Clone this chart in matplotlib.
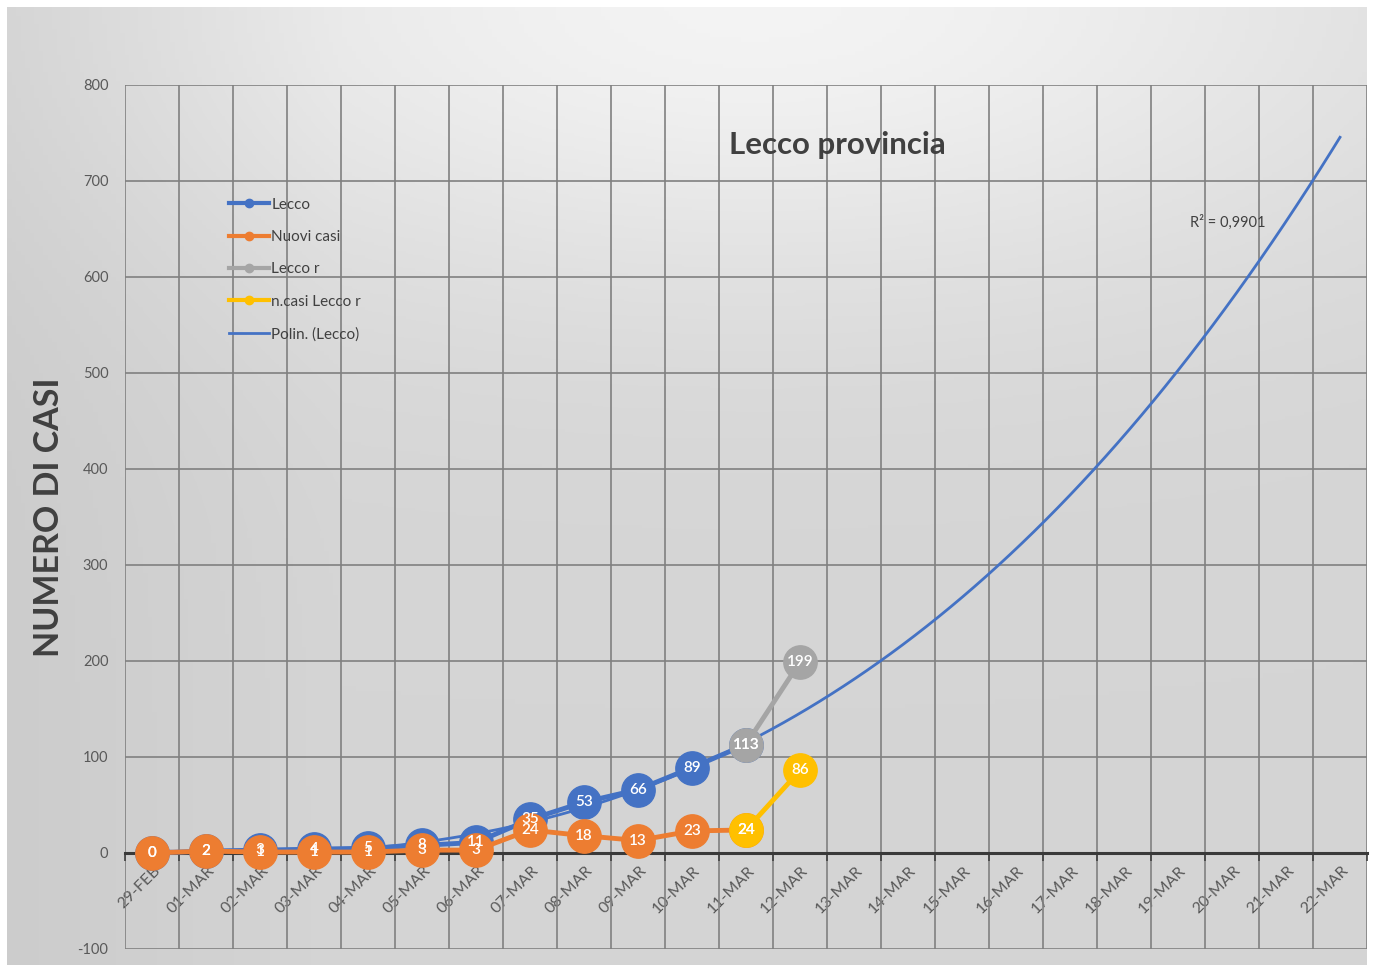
import numpy as np
import matplotlib
matplotlib.use("Agg")
import matplotlib.pyplot as plt
from matplotlib.lines import Line2D
from matplotlib.transforms import ScaledTranslation

# data
dates = ["29-FEB", "01-MAR", "02-MAR", "03-MAR", "04-MAR", "05-MAR", "06-MAR",
         "07-MAR", "08-MAR", "09-MAR", "10-MAR", "11-MAR", "12-MAR", "13-MAR",
         "14-MAR", "15-MAR", "16-MAR", "17-MAR", "18-MAR", "19-MAR", "20-MAR",
         "21-MAR", "22-MAR"]
lecco = [0, 2, 3, 4, 5, 8, 11, 35, 53, 66, 89, 113]
nuovi_casi = [0, 2, 1, 1, 1, 3, 3, 24, 18, 13, 23, 24]
lecco_r = [113, 199]          # 11-MAR, 12-MAR
ncasi_lecco_r = [24, 86]      # 11-MAR, 12-MAR
r_start = 11
trend_degree = 3

BLUE = "#4472C4"
ORANGE = "#ED7D31"
GREY = "#A5A5A5"
YELLOW = "#FFC000"
TXT = "#404040"
FONT = ["Lato", "DejaVu Sans"]

plt.rcParams["font.family"] = FONT
plt.rcParams["axes.unicode_minus"] = False

W, H = 1373, 965
fig = plt.figure(figsize=(W / 100, H / 100), dpi=100)
fig.patch.set_facecolor("white")


def bg_value(fx, fy):
    # light glow at top centre, greyer towards the edges
    v = 0.835 + 0.12 * np.exp(-((fx - 0.55) / 0.5) ** 2 - ((1 - fy) / 0.3) ** 2)
    v -= 0.035 * np.clip(1 - fx / 0.25, 0, 1)
    return np.clip(v, 0, 1)


# figure background (gradient panel)
bx0, by0, bx1, by1 = 7 / W, 0.0, 1367 / W, 1 - 7 / H
bg_ax = fig.add_axes([bx0, by0, bx1 - bx0, by1 - by0], zorder=-10)
gx, gy = np.meshgrid(np.linspace(bx0, bx1, 300), np.linspace(by1, by0, 220))
val = bg_value(gx, gy)
bg_ax.imshow(np.dstack([val, val, val]), aspect="auto", extent=[0, 1, 0, 1])
bg_ax.axis("off")

# plot area
left, right, top, bottom = 125 / W, 1367 / W, 1 - 85 / H, 1 - 949 / H
ax = fig.add_axes([left, bottom, right - left, top - bottom])
ax.set_facecolor("none")

x = np.arange(len(dates))
xl = np.arange(len(lecco))
xr = np.arange(r_start, r_start + len(lecco_r))

ax.set_yticks(np.arange(-100, 801, 100))
ax.set_xticks(x)
ax.set_xticklabels(dates)
ax.set_xticks(np.arange(-0.5, len(dates), 1.0), minor=True)
ax.tick_params(axis="x", which="major", length=0, pad=11, labelsize=11.5,
               labelcolor="#595959")
ax.tick_params(axis="x", which="minor", length=6, width=1.2, color="#404040")
ax.tick_params(axis="y", length=0, pad=12, labelsize=10.5, labelcolor="#595959")

ax.grid(which="minor", axis="x", color="#808080", linewidth=1.2, zorder=0)
ax.grid(which="major", axis="y", color="#808080", linewidth=1.2, zorder=0)
ax.set_axisbelow(True)
for side in ["left", "right", "top"]:
    ax.spines[side].set_visible(False)
ax.spines["bottom"].set_position(("data", 0))
ax.spines["bottom"].set_color("#3a3a3a")
ax.spines["bottom"].set_linewidth(2.2)

# fade the gridlines towards the top, like the glossy effect in the original
ny = 200
ay = np.linspace(1, 0, ny)
fy = bottom + ay * (top - bottom)
fxs = np.linspace(left, right, 200)
FX, FY = np.meshgrid(fxs, fy)
v = bg_value(FX, FY)
alpha = np.clip((FY - 0.45) / 0.25, 0, 0.93)
overlay = np.dstack([v, v, v, alpha])
ax.imshow(overlay, aspect="auto", extent=[-0.5, len(dates) - 0.5, -100, 800],
          zorder=0.5, interpolation="bilinear")
ax.set_xlim(-0.5, len(dates) - 0.5)
ax.set_ylim(-100, 800)

# polynomial trend of Lecco (same as the spreadsheet trendline)
coef = np.polyfit(xl, lecco, trend_degree)
xt = np.linspace(0, len(dates) - 1, 300)
ax.plot(xt, np.polyval(coef, xt), color=BLUE, lw=2, zorder=2.5)

ms = 24
ax.plot(xl, lecco, color=BLUE, lw=3.5, marker="o", ms=ms, zorder=3)
ax.plot(xl, nuovi_casi, color=ORANGE, lw=3.5, marker="o", ms=ms, zorder=4)
ax.plot(xr, lecco_r, color=GREY, lw=3.5, marker="o", ms=ms, zorder=5)
ax.plot(xr, ncasi_lecco_r, color=YELLOW, lw=3.5, marker="o", ms=ms, zorder=6)

for xs, ys in [(xl, lecco), (xl, nuovi_casi), (xr, lecco_r), (xr, ncasi_lecco_r)]:
    for xi, yi in zip(xs, ys):
        ax.text(xi, yi, str(yi), color="white", fontsize=11, ha="center",
                va="center", zorder=10, fontweight="semibold")

fig.text(1190 / W, 1 - 222 / H, "R\u00b2 = 0,9901", fontsize=10.5, color=TXT,
         ha="left", va="center")

# titles
fig.text(0.610, 0.850, "Lecco provincia", fontsize=22.5, fontweight="bold",
         color=TXT, ha="center", va="center")
fig.text(0.036, 0.464, "NUMERO DI CASI", fontsize=24.5, fontweight="bold",
         color=TXT, ha="center", va="center", rotation=90)

handles = [
    Line2D([], [], color=BLUE, lw=3, marker="o", ms=6),
    Line2D([], [], color=ORANGE, lw=3, marker="o", ms=6),
    Line2D([], [], color=GREY, lw=3, marker="o", ms=6),
    Line2D([], [], color=YELLOW, lw=3, marker="o", ms=6),
    Line2D([], [], color=BLUE, lw=2),
]
labels = ["Lecco", "Nuovi casi", "Lecco r", "n.casi Lecco r", "Polin. (Lecco)"]
leg = fig.legend(handles, labels, loc="upper left", bbox_to_anchor=(0.167, 0.795),
                 frameon=False, fontsize=11, handlelength=2.6, handletextpad=0.15,
                 labelspacing=1.2, borderpad=0, borderaxespad=0)
for t in leg.get_texts():
    t.set_color(TXT)

# rotated date labels, applied last so tick updates do not reset them
shift = ScaledTranslation(6 / 100, 0, fig.dpi_scale_trans)
for lbl in ax.get_xticklabels():
    lbl.set_rotation(45)
    lbl.set_ha("right")
    lbl.set_va("center")
    lbl.set_rotation_mode("anchor")
    lbl.set_transform(lbl.get_transform() + shift)

fig.savefig("out.png", dpi=100)
